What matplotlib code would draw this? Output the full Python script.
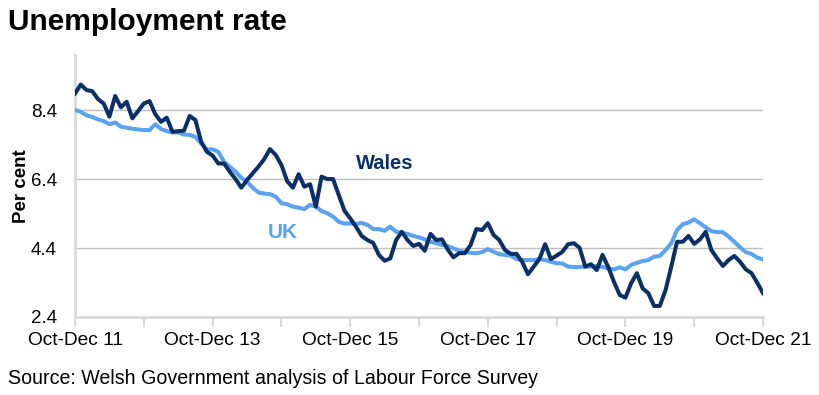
import matplotlib
matplotlib.use('Agg')
import numpy as np
import matplotlib.pyplot as plt

plt.rcParams['font.family'] = ['Liberation Sans', 'DejaVu Sans']

# rolling quarters, Oct-Dec 2011 to Oct-Dec 2021
wales = [8.88, 9.14, 8.98, 8.95, 8.72, 8.59, 8.21, 8.81, 8.48, 8.64,
         8.16, 8.37, 8.59, 8.66, 8.28, 8.06, 8.18, 7.77, 7.79, 7.80,
         8.23, 8.11, 7.48, 7.19, 7.08, 6.85, 6.85, 6.61, 6.40, 6.15,
         6.37, 6.57, 6.76, 6.98, 7.27, 7.10, 6.81, 6.34, 6.15, 6.54,
         6.18, 6.25, 5.60, 6.47, 6.40, 6.40, 5.94, 5.48, 5.26, 5.02,
         4.75, 4.63, 4.55, 4.20, 4.03, 4.10, 4.63, 4.87, 4.63, 4.46,
         4.52, 4.32, 4.81, 4.63, 4.65, 4.36, 4.13, 4.25, 4.25, 4.49,
         4.95, 4.92, 5.12, 4.78, 4.63, 4.34, 4.23, 4.23, 4.00, 3.64,
         3.86, 4.08, 4.51, 4.08, 4.18, 4.29, 4.51, 4.54, 4.41, 3.86,
         3.93, 3.76, 4.20, 3.85, 3.42, 3.04, 2.96, 3.38, 3.67, 3.23,
         3.09, 2.72, 2.72, 3.18, 3.86, 4.58, 4.58, 4.75, 4.52, 4.65,
         4.87, 4.34, 4.10, 3.88, 4.05, 4.17, 4.00, 3.78, 3.67, 3.39,
         3.09]

uk = [8.40, 8.35, 8.25, 8.20, 8.13, 8.08, 7.99, 8.04, 7.92, 7.89,
      7.86, 7.84, 7.82, 7.82, 7.99, 7.85, 7.79, 7.75, 7.75, 7.69,
      7.68, 7.62, 7.43, 7.26, 7.26, 7.19, 6.90, 6.76, 6.61, 6.44,
      6.32, 6.15, 6.01, 5.98, 5.96, 5.89, 5.70, 5.67, 5.60, 5.57,
      5.53, 5.65, 5.60, 5.47, 5.41, 5.31, 5.16, 5.11, 5.11, 5.10,
      5.13, 5.07, 4.95, 4.95, 4.90, 5.02, 4.87, 4.84, 4.81, 4.75,
      4.71, 4.65, 4.58, 4.54, 4.49, 4.46, 4.39, 4.32, 4.29, 4.26,
      4.25, 4.28, 4.37, 4.29, 4.22, 4.20, 4.18, 4.08, 4.05, 4.05,
      4.05, 4.08, 4.05, 4.00, 3.96, 3.95, 3.86, 3.85, 3.85, 3.86,
      3.86, 3.88, 3.85, 3.81, 3.78, 3.84, 3.78, 3.91, 3.97, 4.02,
      4.05, 4.15, 4.17, 4.34, 4.54, 4.92, 5.09, 5.14, 5.23, 5.12,
      5.00, 4.89, 4.86, 4.86, 4.73, 4.58, 4.42, 4.28, 4.23, 4.12,
      4.07]

tick_labels = ['Oct-Dec 11', 'Oct-Dec 13', 'Oct-Dec 15', 'Oct-Dec 17', 'Oct-Dec 19', 'Oct-Dec 21']
y_ticks = [2.4, 4.4, 6.4, 8.4]

wales_col = '#0B3068'
uk_col = '#5AA2F2'
grid_col = '#BFBFBF'
axis_col = '#D9D9D9'

x = np.arange(len(wales))

fig = plt.figure(figsize=(8.2, 3.95), dpi=100)
ax = fig.add_axes([0.0915, 0.1975, 0.839, 0.6635])

ax.plot(x, uk, color=uk_col, lw=2.9, solid_joinstyle='round', zorder=3)
ax.plot(x, wales, color=wales_col, lw=2.9, solid_joinstyle='round', zorder=4)

ax.set_xlim(0, len(wales) - 1)
ax.set_ylim(2.4, 10.0)
ax.set_yticks(y_ticks)
ax.set_yticklabels(['%.1f' % v for v in y_ticks], fontsize=13.5)
ax.yaxis.grid(True, color=grid_col, lw=1)
ax.set_axisbelow(True)

ax.set_xticks(np.arange(0, len(wales), 12))
ax.set_xticklabels([tick_labels[i // 2] if i % 2 == 0 else '' for i in range(11)], fontsize=13.8)
ax.tick_params(axis='x', length=7, width=1.5, color=axis_col, pad=4)
ax.tick_params(axis='y', length=0, pad=13)

for s in ['top', 'right']:
    ax.spines[s].set_visible(False)
ax.spines['left'].set_color(axis_col)
ax.spines['left'].set_linewidth(2)
ax.spines['bottom'].set_color(axis_col)
ax.spines['bottom'].set_linewidth(2)

ax.set_ylabel('Per cent', fontsize=13.5, fontweight='bold')
ax.yaxis.set_label_coords(-0.066, 0.5)

ax.text(54, 6.85, 'Wales', color=wales_col, fontsize=14.5, fontweight='bold', ha='center', va='center')
ax.text(36.2, 4.85, 'UK', color=uk_col, fontsize=15, fontweight='bold', ha='center', va='center')

fig.text(0.01, 0.945, 'Unemployment rate', fontsize=21.5, fontweight='bold', va='center')
fig.text(0.01, 0.043, 'Source: Welsh Government analysis of Labour Force Survey', fontsize=14.1, va='center')

plt.savefig('out.png', dpi=100)
